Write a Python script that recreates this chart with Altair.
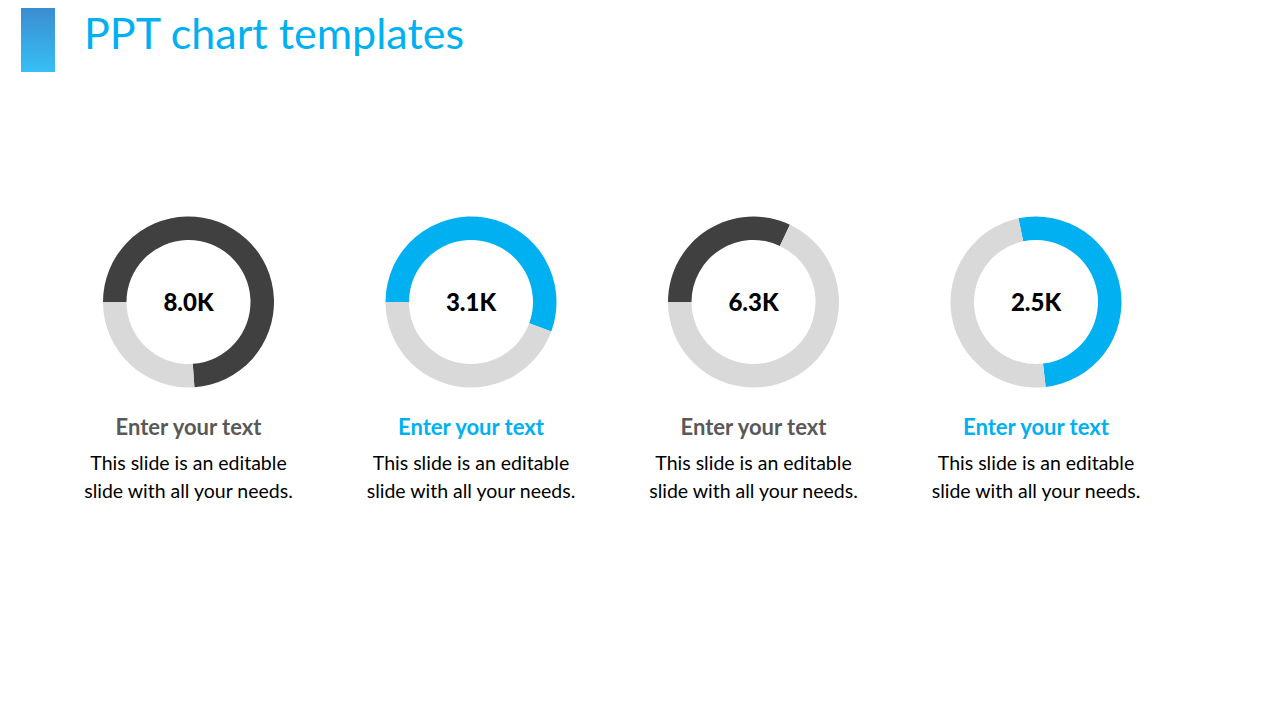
import math
import altair as alt
import pandas as pd

# ---- data ----
idx = [0, 1, 2, 3]
value_labels = ["8.0K", "3.1K", "6.3K", "2.5K"]
start_frac = [0.75, 0.75, 0.75, 0.967]
fill_frac = [0.739, 0.556, 0.32, 0.515]
accent_colors = ["#404040", "#00B0F0", "#404040", "#00B0F0"]
heading_colors = ["#595959", "#00B0F0", "#595959", "#00B0F0"]
headings = ["Enter your text"] * 4
body_texts = ["This slide is an editable\nslide with all your needs."] * 4
rest_color = "#D9D9D9"
title_text = "PPT chart templates"

rows = []
for i, s, f, c in zip(idx, start_frac, fill_frac, accent_colors):
    rows.append({"idx": i, "t0": s, "t1": s + f, "color": c})
    rows.append({"idx": i, "t0": s + f, "t1": s + 1.0, "color": rest_color})
arcs = pd.DataFrame(rows)

labels = pd.DataFrame({
    "idx": idx,
    "value": value_labels,
    "heading": headings,
    "hcolor": heading_colors,
    "body": body_texts,
})

W, H = 1264, 704
FONT = "Lato"

xscale = alt.Scale(type="point", domain=idx, range=[180.5, 1028], padding=0)
X = alt.X("idx:O", scale=xscale, axis=None)

donuts = alt.Chart(arcs).mark_arc(radius=85.5, radius2=62, stroke=None).encode(
    x=X,
    y=alt.value(294),
    theta=alt.Theta("t0:Q", scale=alt.Scale(domain=[0, 2], range=[0, 4 * math.pi]), stack=None),
    theta2="t1:Q",
    color=alt.Color("color:N", scale=None),
)

values = alt.Chart(labels).mark_text(
    font=FONT, fontSize=24, fontWeight=900, color="#000000", baseline="middle", align="center"
).encode(x=X, y=alt.value(296), text="value:N")

heads = alt.Chart(labels).mark_text(
    font=FONT, fontSize=22, fontWeight="bold", baseline="middle", align="center"
).encode(x=X, y=alt.value(420), text="heading:N", color=alt.Color("hcolor:N", scale=None))

bodies = alt.Chart(labels).mark_text(
    font=FONT, fontSize=19.5, color="#000000", baseline="middle", align="center",
    lineBreak="\n", lineHeight=28,
).encode(x=X, y=alt.value(456), text="body:N")

title = alt.Chart(pd.DataFrame({"t": [title_text]})).mark_text(
    font=FONT, fontSize=43, color="#00B0F0", align="left", baseline="middle"
).encode(x=alt.value(76), y=alt.value(28), text="t:N")

bar = alt.Chart(pd.DataFrame({"t": [title_text]})).mark_rect(
    color=alt.Gradient(
        gradient="linear",
        stops=[alt.GradientStop(color="#3A8DD0", offset=0), alt.GradientStop(color="#36BFF4", offset=1)],
        x1=0, x2=0, y1=0, y2=1,
    )
).encode(x=alt.value(13), x2=alt.value(47), y=alt.value(0), y2=alt.value(64))

chart = alt.layer(bar, title, donuts, values, heads, bodies).properties(
    width=W, height=H, padding=0, autosize="none", background="white"
).configure_view(stroke=None)

chart.save("out.html", embed_options={"renderer": "svg", "actions": False})
